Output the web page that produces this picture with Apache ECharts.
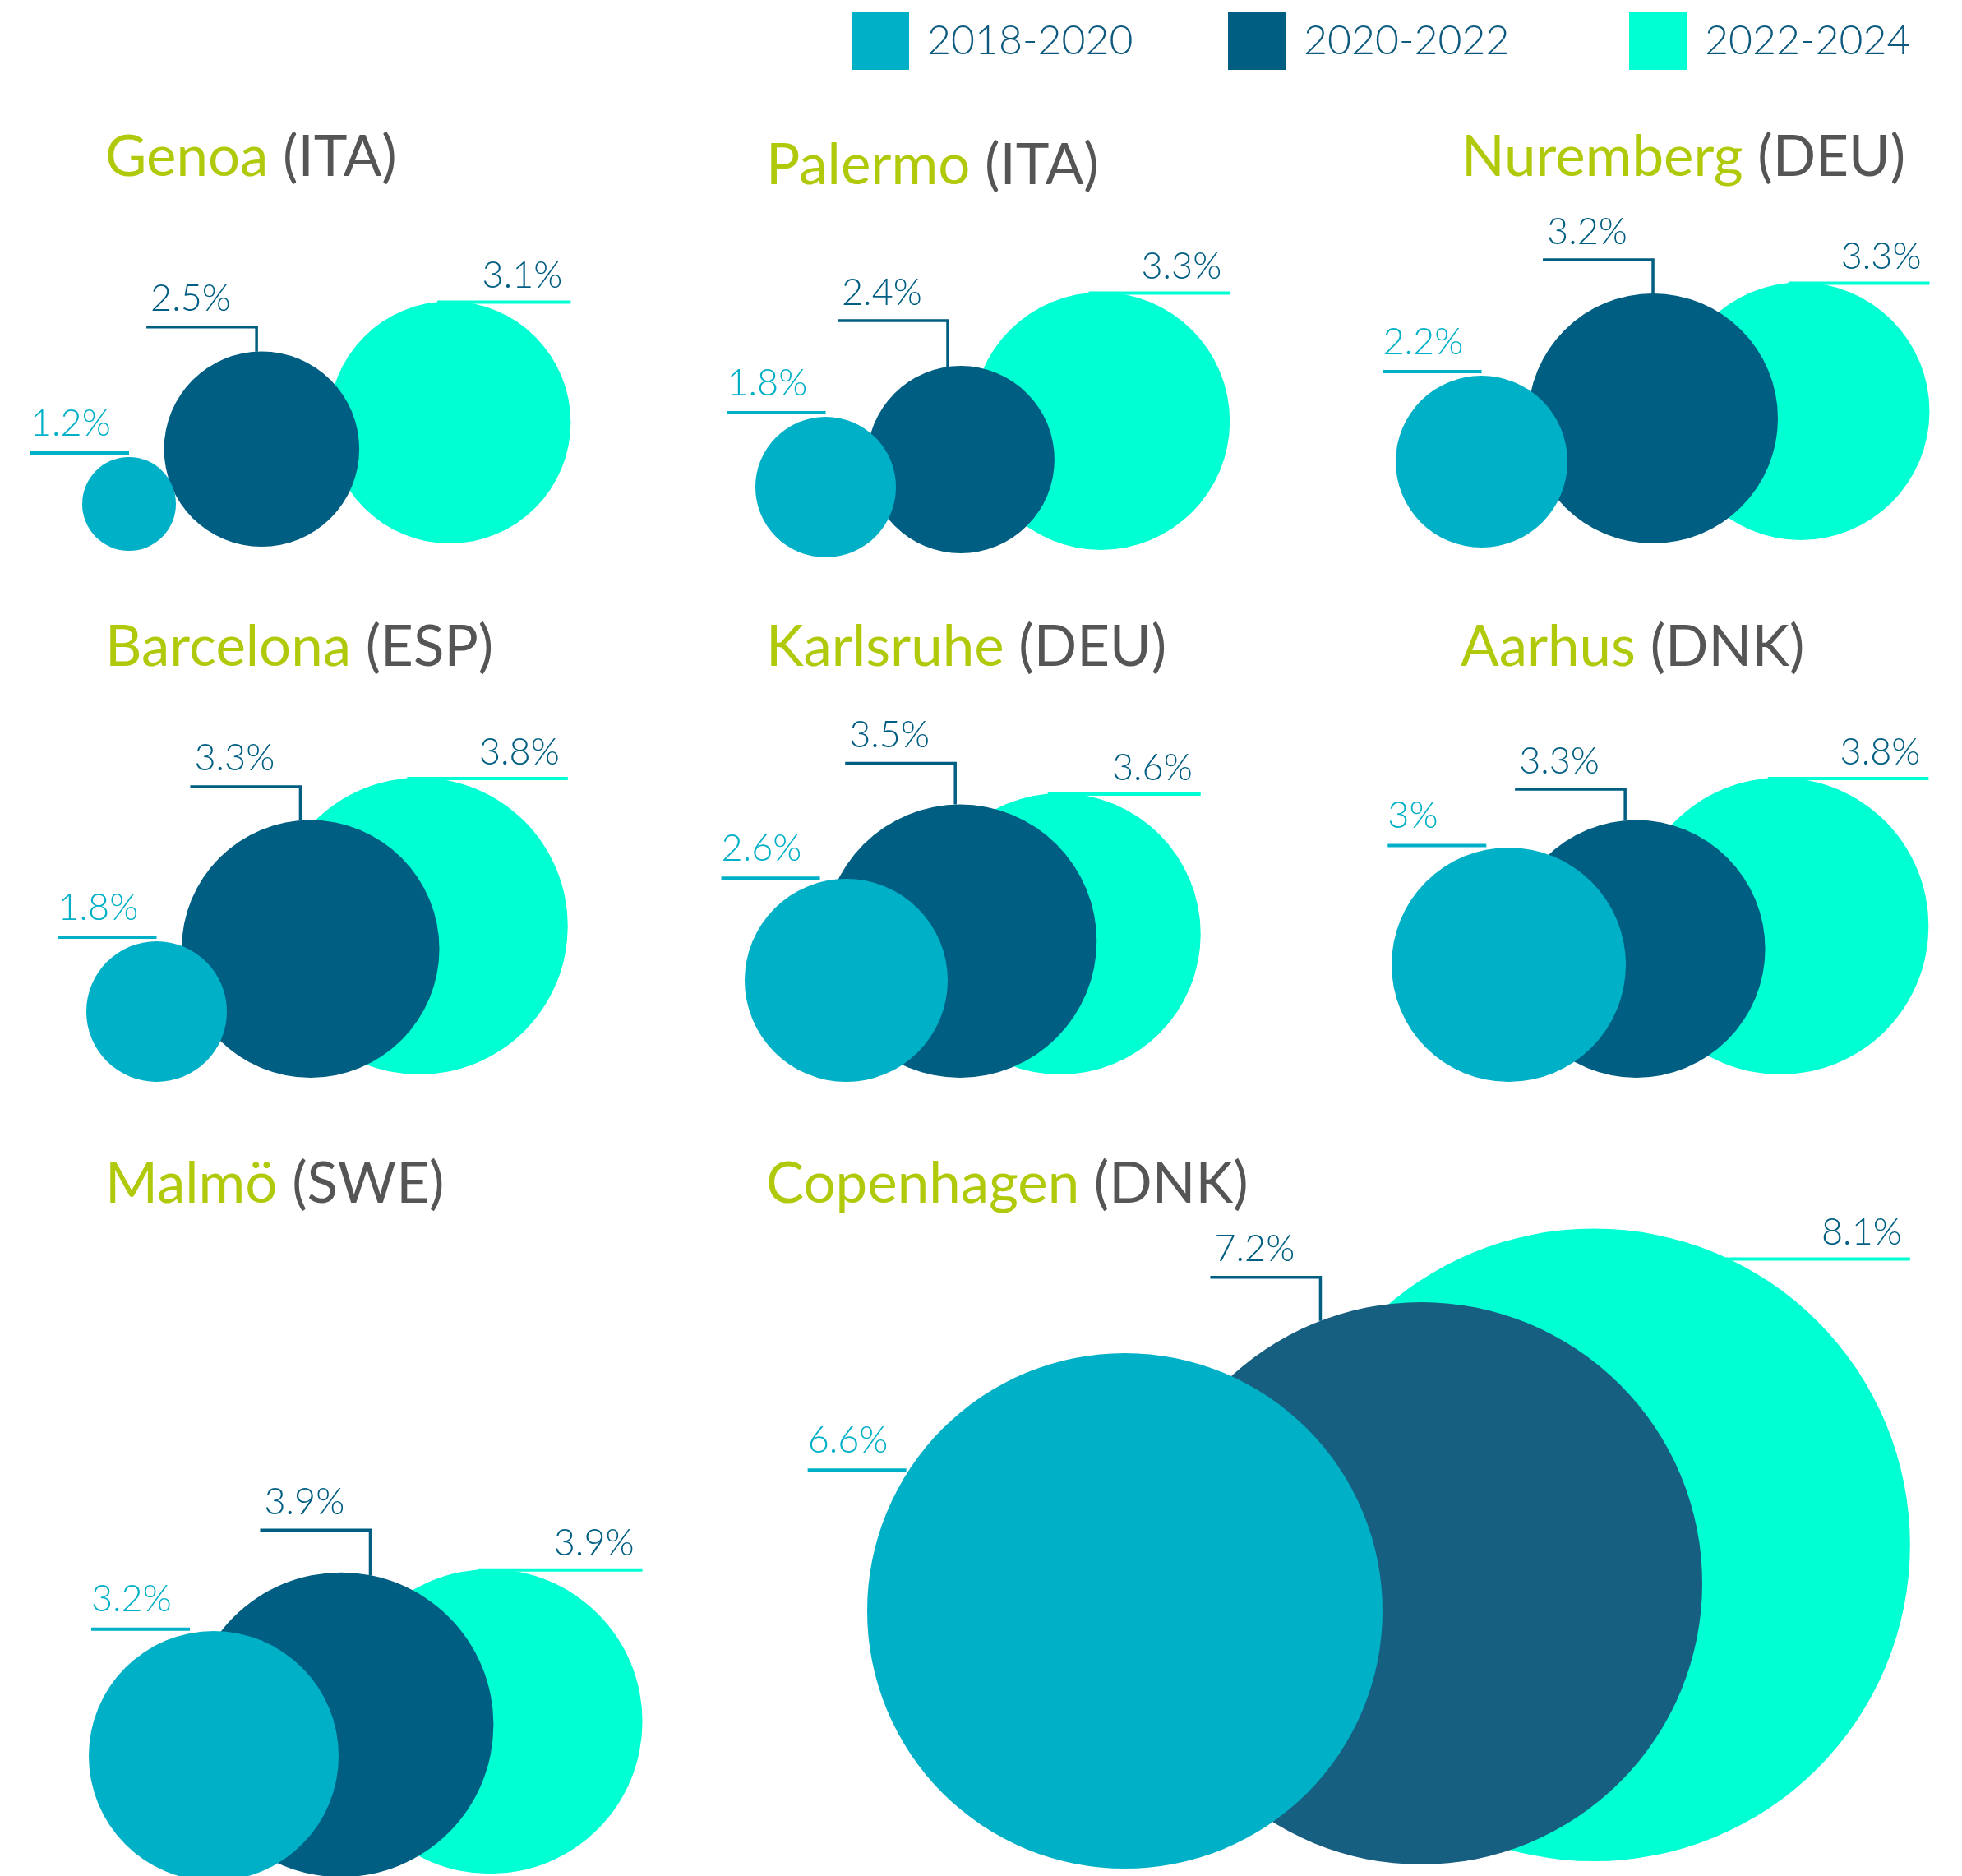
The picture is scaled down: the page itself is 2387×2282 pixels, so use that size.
<!DOCTYPE html>
<html><head><meta charset="utf-8">
<script src="https://cdn.jsdelivr.net/npm/echarts@6/dist/echarts.min.js"></script>
<style>html,body{margin:0;padding:0;background:#fff}#c{width:2387px;height:2282px}</style>
</head><body><div id="c"></div>
<script>
// ---------- DATA ----------
const periods = ['2018-2020', '2020-2022', '2022-2024'];
const cities = ['Genoa', 'Palermo', 'Nuremberg', 'Barcelona', 'Karlsruhe', 'Aarhus', 'Malmö', 'Copenhagen'];
const countries = ['ITA', 'ITA', 'DEU', 'ESP', 'DEU', 'DNK', 'SWE', 'DNK'];
const growth2018_2020 = [1.2, 1.8, 2.2, 1.8, 2.6, 3.0, 3.2, 6.6];
const growth2020_2022 = [2.5, 2.4, 3.2, 3.3, 3.5, 3.3, 3.9, 7.2];
const growth2022_2024 = [3.1, 3.3, 3.3, 3.8, 3.6, 3.8, 3.9, 8.1];
const seriesValues = [growth2018_2020, growth2020_2022, growth2022_2024];

// ---------- STYLE / LAYOUT ----------
const PX = 47.5;              // pixels per value unit (circle radius = value)
const GW = 600, GH = 600;     // panel grid size in px
const COLORS = ['#00B0C7', '#005E82', '#00FFD2'];
const TEXT_COLORS = ['#00B0C7', '#005E82', '#005E82'];
const BOTTOM_SHIFT = [5, 0, -4]; // small vertical offsets of circle bottoms (px)
const GREEN = '#B0C90B', GRAY = '#555555';
const FONT = 'Lato';
// panel placement, circle packing overlap factors, label anchor angles (deg), stem height
const panelLayout = [
  {left: 100,  base: 665,  gaps: [0.918, 0.86],  tx: 128,  ty: 194,  ang: [0, 3, 0],    stem: 30},
  {left: 919,  base: 673,  gaps: [0.824, 0.63],  tx: 932,  ty: 204,  ang: [0, 8, 0],    stem: 56},
  {left: 1698, base: 661,  gaps: [0.813, 0.582], tx: 1778, ty: 194,  ang: [0, 0, 0],    stem: 41},
  {left: 105,  base: 1311, gaps: [0.773, 0.393], tx: 128,  ty: 790,  ang: [0, 4.5, 0],  stem: 41},
  {left: 906,  base: 1311, gaps: [0.478, 0.361], tx: 932,  ty: 790,  ang: [15, 2, 0],   stem: 50},
  {left: 1693, base: 1311, gaps: [0.519, 0.519], tx: 1777, ty: 790,  ang: [11, 5, 0],   stem: 38},
  {left: 108,  base: 2286, gaps: [0.46, 0.489],  tx: 128,  ty: 1443, ang: [11, -11, 0], stem: 55},
  {left: 1055, base: 2268, gaps: [0.55, 0.289],  tx: 932,  ty: 1443, ang: [58, 21, 25], stem: 53}
];
const legendLeft = [1036, 1494, 1982];

// ---------- BUILD ----------
const grids = [], xAxes = [], yAxes = [], series = [], titles = [];
cities.forEach((city, i) => {
  const L = panelLayout[i];
  grids.push({left: L.left, top: L.base - GH, width: GW, height: GH});
  xAxes.push({type: 'value', gridIndex: i, min: 0, max: GW / PX, show: false});
  yAxes.push({type: 'value', gridIndex: i, min: 0, max: GH / PX, show: false});
  titles.push({
    text: '{a|' + city + '} {b|(' + countries[i] + ')}',
    left: L.tx, top: L.ty - 44, padding: 0,
    textStyle: {fontFamily: FONT, fontSize: 69, fontWeight: 'normal', lineHeight: 84,
      rich: {a: {fontFamily: FONT, fontSize: 69, color: GREEN, lineHeight: 84},
             b: {fontFamily: FONT, fontSize: 69, color: GRAY, lineHeight: 84}}}
  });
  // packed layout of circle centres (value units)
  const v = seriesValues.map(s => s[i]);
  const cx = [v[0]];
  cx.push(cx[0] + L.gaps[0] * (v[0] + v[1]));
  cx.push(cx[1] + L.gaps[1] * (v[1] + v[2]));

  [0, 1, 2].forEach(p => {
    const color = (p === 1 && i === 7) ? '#175F80' : COLORS[p];
    series.push({
      type: 'custom', name: periods[p], xAxisIndex: i, yAxisIndex: i,
      z: 4 - p, clip: false, silent: true,
      itemStyle: {color: COLORS[p]},
      data: [[cx[p], v[p], v[p]]],
      renderItem: function (params, api) {
        const val = api.value(2);
        const c = api.coord([api.value(0), api.value(1)]);
        c[1] += BOTTOM_SHIFT[p];
        const r = api.size([val, val])[0];
        const th = L.ang[p] * Math.PI / 180;
        const label = String(val) + '%';
        const children = [{type: 'circle', shape: {cx: c[0], cy: c[1], r: r}, style: {fill: color}}];
        let pts, tx, ty, align;
        if (p === 0) {
          const ax = c[0] - r * Math.sin(th), ay = c[1] - r * Math.cos(th) - 5;
          pts = [[ax - 120, ay], [ax, ay]];
          tx = ax - 120; ty = ay - 36; align = 'left';
          children.push({type: 'polyline', shape: {points: pts}, style: {stroke: COLORS[0], lineWidth: 4, fill: null}});
        } else if (p === 1) {
          const ax = c[0] - r * Math.sin(th), ay = c[1] - r * Math.cos(th);
          const hy = ay - L.stem;
          pts = [[ax - 134, hy], [ax, hy], [ax, ay]];
          tx = ax - 129; ty = hy - 34; align = 'left';
          children.push({type: 'polyline', shape: {points: pts}, style: {stroke: COLORS[1], lineWidth: 3.5, fill: null}});
        } else {
          const ax = c[0] + r * Math.sin(th), ay = c[1] - r * Math.cos(th) + 1;
          pts = [[ax - 15, ay], [c[0] + r, ay]];
          tx = c[0] + r - 10; ty = ay - 32; align = 'right';
          children.push({type: 'polyline', shape: {points: pts}, style: {stroke: COLORS[2], lineWidth: 4, fill: null}});
        }
        children.push({type: 'text', style: {text: label, x: tx, y: ty, align: align, verticalAlign: 'middle',
          fill: TEXT_COLORS[p], font: '300 45px ' + FONT}});
        return {type: 'group', children: children};
      }
    });
  });
});

const legends = periods.map((name, k) => ({
  data: [name], left: legendLeft[k], top: 15, padding: 0, icon: 'rect',
  itemWidth: 70, itemHeight: 70, selectedMode: false,
  textStyle: {fontFamily: FONT, fontSize: 50, fontWeight: 300, color: '#0E5A7E', padding: [0, 0, 0, 17]}
}));

const chart = echarts.init(document.getElementById('c'), null, {renderer: 'canvas'});
chart.setOption({
  backgroundColor: '#ffffff',
  animation: false,
  title: titles,
  legend: legends,
  grid: grids,
  xAxis: xAxes,
  yAxis: yAxes,
  series: series
});
</script>
</body></html>
